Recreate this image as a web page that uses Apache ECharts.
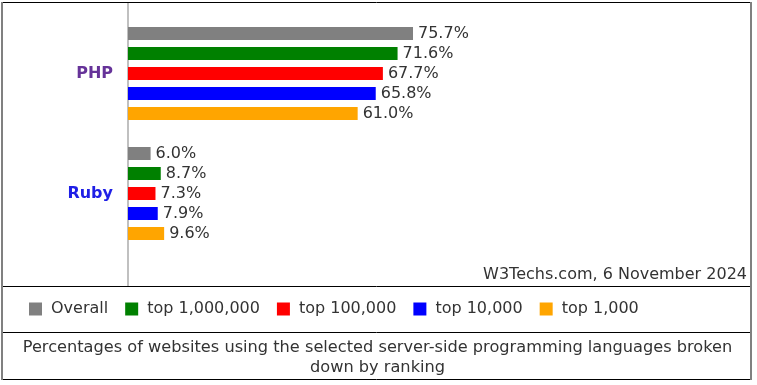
<!DOCTYPE html>
<html>
<head>
<meta charset="utf-8">
<script src="https://cdn.jsdelivr.net/npm/echarts@6/dist/echarts.min.js"></script>
<style>
html,body{margin:0;padding:0;background:#fff;}
#chart{width:757px;height:385px;}
</style>
</head>
<body>
<div id="chart"></div>
<script>
var categories = ['PHP', 'Ruby'];
var categoryColors = ['#663399', '#1f1fe6'];
var seriesNames = ['Overall', 'top 1,000,000', 'top 100,000', 'top 10,000', 'top 1,000'];
var seriesColors = ['#808080', '#008000', '#ff0000', '#0000ff', '#ffa500'];
var overall = [75.7, 6.0];
var top1m = [71.6, 8.7];
var top100k = [67.7, 7.3];
var top10k = [65.8, 7.9];
var top1k = [61.0, 9.6];
var seriesValues = [overall, top1m, top100k, top10k, top1k];
var sourceText = 'W3Techs.com, 6 November 2024';
var captionText = 'Percentages of websites using the selected server-side programming languages broken\ndown by ranking';

var FONT = '"DejaVu Sans", Verdana, sans-serif';
var chart = echarts.init(document.getElementById('chart'));

var series = seriesNames.map(function (name, i) {
  return {
    name: name,
    type: 'bar',
    data: seriesValues[i],
    barWidth: 13,
    barGap: '53.85%',
    itemStyle: { color: seriesColors[i] },
    label: {
      show: true,
      position: 'right',
      distance: 5,
      color: '#333',
      fontFamily: FONT,
      fontSize: 16,
      formatter: function (p) { return p.value.toFixed(1) + '%'; }
    },
    emphasis: { disabled: true },
    animation: false
  };
});

chart.setOption({
  animation: false,
  backgroundColor: '#fff',
  grid: { left: 128, top: 13.5, width: 376.5, height: 240, containLabel: false },
  xAxis: {
    type: 'value', min: 0, max: 100,
    axisLine: { show: false }, axisTick: { show: false },
    axisLabel: { show: false }, splitLine: { show: false }
  },
  yAxis: {
    type: 'category', data: categories, inverse: true,
    axisLine: { show: false }, axisTick: { show: false },
    axisLabel: {
      margin: 15, fontFamily: FONT, fontSize: 16, fontWeight: 'bold',
      color: function (v, idx) { return categoryColors[idx]; }
    }
  },
  legend: {
    data: seriesNames,
    left: 29, top: 301, padding: 0,
    icon: 'rect', itemWidth: 13, itemHeight: 13, itemGap: 17,
    textStyle: { fontFamily: FONT, fontSize: 16, color: '#333', padding: [0, 0, 0, 4] },
    selectedMode: false
  },
  graphic: [
    { type: 'line', shape: { x1: 128, y1: 3, x2: 128, y2: 286 }, style: { stroke: '#c0c0c0', lineWidth: 2 }, silent: true },
    { type: 'text', x: 747, y: 275, style: { text: sourceText, font: '16px ' + FONT, fill: '#333', textAlign: 'right', textVerticalAlign: 'middle' }, silent: true },
    { type: 'text', x: 377.5, y: 357.5, style: { text: captionText, font: '16.2px ' + FONT, fill: '#333', textAlign: 'center', textVerticalAlign: 'middle', lineHeight: 20 }, silent: true },
    { type: 'line', shape: { x1: 2, y1: 2.5, x2: 751, y2: 2.5 }, style: { stroke: '#000', lineWidth: 1 }, silent: true },
    { type: 'line', shape: { x1: 2, y1: 286.5, x2: 751, y2: 286.5 }, style: { stroke: '#000', lineWidth: 1 }, silent: true },
    { type: 'line', shape: { x1: 2, y1: 332.5, x2: 751, y2: 332.5 }, style: { stroke: '#000', lineWidth: 1 }, silent: true },
    { type: 'line', shape: { x1: 2, y1: 379.5, x2: 751, y2: 379.5 }, style: { stroke: '#000', lineWidth: 1 }, silent: true },
    { type: 'line', shape: { x1: 2, y1: 2, x2: 2, y2: 380 }, style: { stroke: '#808080', lineWidth: 2 }, silent: true },
    { type: 'line', shape: { x1: 751, y1: 2, x2: 751, y2: 380 }, style: { stroke: '#808080', lineWidth: 2 }, silent: true }
  ],
  series: series
});
</script>
</body>
</html>
